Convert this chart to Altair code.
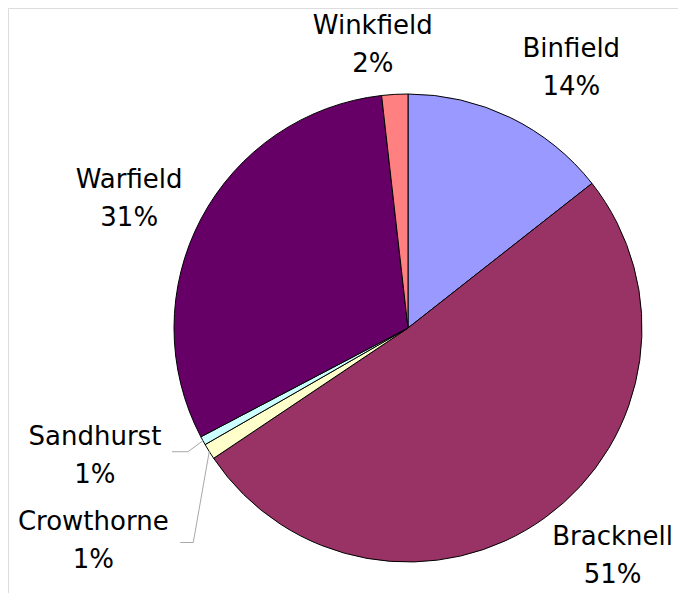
import altair as alt
import pandas as pd
import numpy as np

# ---- data ----
categories = ["Binfield", "Bracknell", "Crowthorne", "Sandhurst", "Warfield", "Winkfield"]
shares = [14.4, 51.2, 1.1, 0.6, 30.9, 1.8]
colors = ["#9999FF", "#993366", "#FFFFCC", "#CCFFFF", "#660066", "#FF8080"]

# ---- style / layout ----
CX, CY, R = 400, 320, 234
LH = 38  # label line height
# shift of each label block centre from the arc edge point at the slice's mid angle
label_shift = {
    "Binfield": (61, -50),
    "Bracknell": (67, 39),
    "Crowthorne": (-116, 89),
    "Sandhurst": (-108, 15),
    "Warfield": (-72, -20),
    "Winkfield": (-22, -49),
}
# leader lines: (elbow, end) relative to the label centre
leaders = {
    "Sandhurst": [(93, -4), (77, -4)],
    "Crowthorne": [(100, 2), (87, 2)],
}

df = pd.DataFrame({
    "idx": range(len(categories)),
    "cat": categories,
    "value": shares,
    "sx": [label_shift[c][0] for c in categories],
    "sy": [label_shift[c][1] for c in categories],
})

# leader line points, derived from the slice angles
vals = np.array(shares, dtype=float)
cum = np.cumsum(vals)
mid = (cum - vals / 2) / vals.sum() * 2 * np.pi
rows = []
for i, c in enumerate(categories):
    if c not in leaders:
        continue
    ex = CX + R * np.sin(mid[i])
    ey = CY - R * np.cos(mid[i])
    lx = ex + label_shift[c][0]
    ly = ey + label_shift[c][1]
    rows.append({"cat": c, "seq": 0, "px": ex, "py": ey})
    for k, (ox, oy) in enumerate(leaders[c]):
        rows.append({"cat": c, "seq": k + 1, "px": lx + ox, "py": ly + oy})
lines_df = pd.DataFrame(rows)

color_scale = alt.Scale(domain=categories, range=colors)

arcs = alt.Chart(df).mark_arc(
    outerRadius=R, stroke="black", strokeWidth=1
).encode(
    theta=alt.Theta("value:Q", stack=True),
    order=alt.Order("idx:Q"),
    color=alt.Color("cat:N", scale=color_scale, legend=None),
    x=alt.value(CX),
    y=alt.value(CY),
)

labels = alt.Chart(df).transform_window(
    cum="sum(value)", sort=[alt.SortField("idx")]
).transform_joinaggregate(
    total="sum(value)"
).transform_calculate(
    mid="(datum.cum - datum.value/2) / datum.total * 2 * PI",
    lx=f"{CX} + {R} * sin(datum.mid) + datum.sx",
    ly=f"{CY} - {R} * cos(datum.mid) + datum.sy - {LH / 2}",
    label="datum.cat + '\\n' + format(datum.value / datum.total * 100, '.0f') + '%'",
).mark_text(
    font="DejaVu Sans", fontSize=26, lineBreak="\n", lineHeight=LH,
    align="center", baseline="middle", color="black"
).encode(
    x=alt.X("lx:Q", scale=None, axis=None),
    y=alt.Y("ly:Q", scale=None, axis=None),
    text="label:N",
)

leader_lines = alt.Chart(lines_df).mark_line(
    color="#A8A8A8", strokeWidth=1
).encode(
    x=alt.X("px:Q", scale=None, axis=None),
    y=alt.Y("py:Q", scale=None, axis=None),
    detail="cat:N",
    order="seq:Q",
)

chart = alt.layer(arcs, leader_lines, labels).properties(
    width=670, height=585, padding=0, autosize="none"
).configure_view(stroke="transparent", strokeWidth=0).configure(background="white")

chart.save("out.html", embed_options={"renderer": "svg", "actions": False})
